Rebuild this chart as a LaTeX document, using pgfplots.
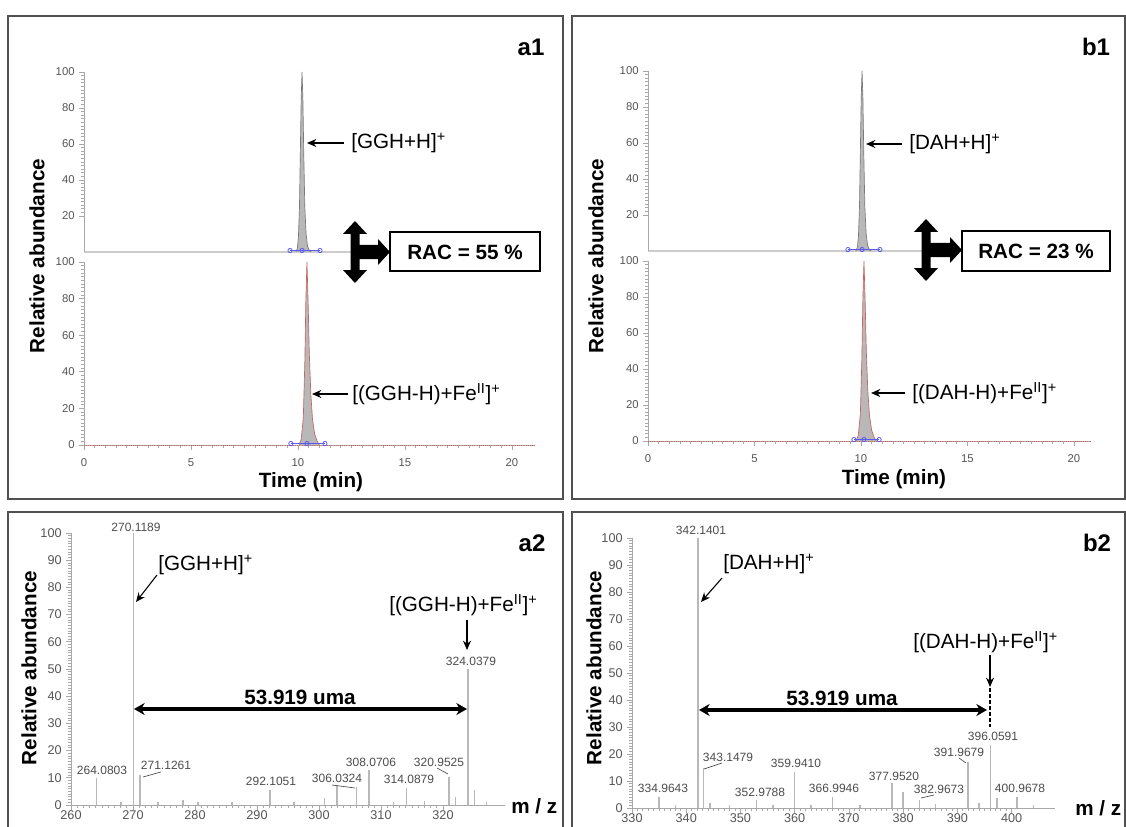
\documentclass[border=0pt]{standalone}
\usepackage{pgfplots}
\pgfplotsset{compat=1.18}
\usepackage{fontspec}
\setmainfont{Liberation Sans}
\usetikzlibrary{arrows.meta}
\definecolor{axgray}{HTML}{A8A8A8}
\definecolor{tickgray}{HTML}{555555}
\definecolor{peakfill}{HTML}{B8B8B8}
\definecolor{peakline}{HTML}{7A7A7A}
\definecolor{redtrace}{HTML}{C86464}
\definecolor{bluemark}{HTML}{5A5AF0}
\definecolor{stick}{HTML}{B8B8B8}
\definecolor{framec}{HTML}{505050}

\pgfplotsset{
  base/.style={scale only axis, anchor=south west, axis lines=left,
    axis line style={-,axgray,line width=0.75pt},
    tick style={axgray,line width=0.6pt}, tick align=outside,
    major tick length=3.5pt, minor tick length=2pt,
    enlargelimits=false, clip=false,
    /pgf/number format/assume math mode=true},
  chrom/.style={base, ymin=0, ymax=100, minor y tick num=9,
    ticklabel style={font=\fontsize{8.5}{10}\selectfont, text=tickgray},
    xticklabel style={yshift=-3pt}},
  spec/.style={base, ymin=0, ymax=100, ytick={0,10,...,100}, minor y tick num=9,
    minor x tick num=9,
    ticklabel style={font=\fontsize{9.5}{11}\selectfont, text=tickgray},
    xticklabel style={yshift=2.5pt}},
}
\tikzset{
  big/.style={font=\fontsize{15.5}{18}\selectfont\bfseries, inner sep=0pt},
  ion/.style={font=\fontsize{15.5}{18}\selectfont, inner sep=0pt, anchor=west},
  panel/.style={font=\fontsize{18}{20}\selectfont\bfseries, inner sep=0pt},
  pk/.style={font=\fontsize{9}{10}\selectfont, text=black!70, inner sep=0pt},
  thinarr/.style={line width=0.8pt, -{Stealth[length=7pt,width=6pt]}},
}
\newcommand{\racsym}[3]{%
 \fill (#1,#2-31) -- (#1+12,#2-18) -- (#1+4.5,#2-18) -- (#1+4.5,#2-7) -- (#3-12,#2-7) -- (#3-12,#2-13) -- (#3,#2) -- (#3-12,#2+13) -- (#3-12,#2+7) -- (#1+4.5,#2+7) -- (#1+4.5,#2+18) -- (#1+12,#2+18) -- (#1,#2+31) -- (#1-12,#2+18) -- (#1-4.5,#2+18) -- (#1-4.5,#2-18) -- (#1-12,#2-18) -- cycle;}

\begin{document}
\begin{tikzpicture}
\useasboundingbox (0,0) rectangle (844.5pt,619.5pt);

% ---------- a1 top ----------
\begin{axis}[chrom, at={(63pt,430.5pt)}, width=338.6pt, height=135pt,
  xmin=0, xmax=21.1, xtick=\empty, ytick={20,40,60,80,100},
  x axis line style={line width=1.4pt, draw=gray!40}]
\addplot[fill=peakfill, draw=peakline, line width=0.5pt] coordinates {
 (9.90,0) (9.97,2) (10.02,8) (10.07,25) (10.11,55) (10.15,85) (10.19,100)
 (10.23,85) (10.27,55) (10.32,25) (10.38,10) (10.45,3) (10.55,0.5) (10.62,0)};
\addplot[bluemark, line width=0.6pt, mark=o, mark size=1.6pt, mark options={solid}] coordinates {
 (9.63,0.8) (10.19,0.8) (11.03,0.8)};
\end{axis}

% ---------- a1 bottom ----------
\begin{axis}[chrom, at={(63pt,285.75pt)}, width=338.6pt, height=137.25pt,
  xmin=0, xmax=21.1, xtick={0,5,...,20}, minor x tick num=9, ytick={0,20,...,100}]
\addplot[redtrace, densely dotted, line width=0.6pt] coordinates {(0,0) (21.1,0)};
\addplot[fill=peakfill, draw=redtrace, line width=0.5pt] coordinates {
 (10.05,0) (10.15,3) (10.25,15) (10.32,45) (10.37,80) (10.42,100) (10.47,80)
 (10.53,50) (10.60,28) (10.68,14) (10.78,6) (10.90,2) (11.0,0)};
\addplot[bluemark, line width=0.6pt, mark=o, mark size=1.6pt] coordinates {
 (9.67,0.8) (10.42,0.8) (11.26,0.8)};
\end{axis}

% ---------- b1 top ----------
\begin{axis}[chrom, at={(486pt,431.25pt)}, width=332.25pt, height=135pt,
  xmin=0, xmax=20.8, xtick=\empty, ytick={20,40,60,80,100},
  x axis line style={line width=1.4pt, draw=gray!40}]
\addplot[fill=peakfill, draw=peakline, line width=0.5pt] coordinates {
 (9.76,0) (9.83,2) (9.88,8) (9.93,25) (9.97,55) (10.01,85) (10.05,100)
 (10.09,85) (10.13,55) (10.18,25) (10.24,10) (10.31,3) (10.41,0.5) (10.48,0)};
\addplot[bluemark, line width=0.6pt, mark=o, mark size=1.6pt] coordinates {
 (9.39,0.8) (10.05,0.8) (10.89,0.8)};
\end{axis}

% ---------- b1 bottom ----------
\begin{axis}[chrom, at={(486pt,288.75pt)}, width=332.25pt, height=135pt,
  xmin=0, xmax=20.8, xtick={0,5,...,20}, minor x tick num=9, ytick={0,20,...,100}]
\addplot[redtrace, densely dotted, line width=0.6pt] coordinates {(0,0) (20.8,0)};
\addplot[fill=peakfill, draw=redtrace, line width=0.5pt] coordinates {
 (9.77,0) (9.87,3) (9.97,15) (10.04,45) (10.09,80) (10.14,100) (10.19,80)
 (10.25,50) (10.32,28) (10.40,14) (10.50,6) (10.62,2) (10.72,0)};
\addplot[bluemark, line width=0.6pt, mark=o, mark size=1.6pt] coordinates {
 (9.67,0.8) (10.14,0.8) (10.85,0.8)};
\end{axis}

% ---------- a2 ----------
\begin{axis}[spec, at={(53.25pt,15.75pt)}, width=325.5pt, height=204pt,
  xmin=260, xmax=330, xtick={260,270,...,320}]
\addplot[ycomb, stick, line width=1.1pt] coordinates {
 (264.08,10) (268.1,1) (270.12,100) (271.13,11) (274.0,1) (278.1,2) (280.5,1)
 (286.0,1) (292.11,5.5) (296.0,1) (300.9,2.5) (302.9,7.5) (306.03,6.6)
 (308.07,12.8) (312.0,1) (314.09,6.2) (317.0,1.5) (320.95,10.3) (322.0,3)
 (324.04,50) (325.1,5.5) (327.0,1)};
\end{axis}

% ---------- b2 ----------
\begin{axis}[spec, at={(474pt,13.5pt)}, width=317.25pt, height=202.5pt,
  xmin=330, xmax=408, xtick={330,340,...,400}]
\addplot[ycomb, stick, line width=1.1pt] coordinates {
 (334.96,4) (338.0,1) (342.14,100) (343.15,15) (344.4,2) (348.0,1) (353.0,3)
 (356.0,1) (359.94,13.4) (363.0,1) (366.99,4) (372.0,1) (377.95,9.3) (380.0,6)
 (383.0,3) (386.0,1.5) (391.97,17) (394.0,2) (396.06,23.5) (397.3,3.7)
 (400.97,4) (404.0,1)};
\end{axis}

% ---------- annotations (pixel coordinates, origin top-left) ----------
\begin{scope}[x=0.75pt, y=-0.75pt, yshift=619.5pt]
 % frames
 \draw[framec, line width=0.9pt] (8,16) rectangle (563,499);
 \draw[framec, line width=0.9pt] (572,16) rectangle (1125,499);
 \draw[framec, line width=0.9pt] (8,512) rectangle (563,845);
 \draw[framec, line width=0.9pt] (572,512) rectangle (1125,845);

 % ----- a1 -----
 \node[panel] at (531,47) {a1};
 \node[big, rotate=90] at (37,256) {Relative abundance};
 \node[big] at (311,482) {Time (min)};
 \draw[thinarr] (344,143) -- (307,143);
 \node[ion] at (351,143) {[GGH+H]\textsuperscript{+}};
 \draw[thinarr] (348,394) -- (312,394);
 \node[ion] at (352,394) {[(GGH-H)+Fe\textsuperscript{II}]\textsuperscript{+}};
 \racsym{355}{252}{390}
 \draw[fill=white, line width=1.2pt] (390,232) rectangle (540,271);
 \node[big] at (465,252) {RAC = 55 \%};

 % ----- b1 -----
 \node[panel] at (1096,47) {b1};
 \node[big, rotate=90] at (596,256) {Relative abundance};
 \node[big] at (894,479) {Time (min)};
 \draw[thinarr] (902,144) -- (866,144);
 \node[ion] at (909,144) {[DAH+H]\textsuperscript{+}};
 \draw[thinarr] (905,393) -- (871,393);
 \node[ion] at (912,393) {[(DAH-H)+Fe\textsuperscript{II}]\textsuperscript{+}};
 \racsym{926}{250}{962}
 \draw[fill=white, line width=1.2pt] (962,231) rectangle (1110,271);
 \node[big] at (1036,251) {RAC = 23 \%};

 % ----- a2 -----
 \node[panel] at (532,543) {a2};
 \node[big, rotate=90] at (29,668) {Relative abundance};
 \node[big, anchor=west] at (511,806) {m / z};
 \node[ion] at (158,565) {[GGH+H]\textsuperscript{+}};
 \draw[thinarr] (157,575) -- (136,602);
 \node[ion] at (389,605) {[(GGH-H)+Fe\textsuperscript{II}]\textsuperscript{+}};
 \draw[thinarr] (467,620) -- (467,650);
 \node[big] at (300,697) {53.919 uma};
 \draw[line width=2.6pt, {Stealth[length=8pt,width=9pt]}-{Stealth[length=8pt,width=9pt]}] (134,709) -- (467,709);
 \node[pk] at (136,527) {270.1189};
 \node[pk] at (102,770) {264.0803};
 \node[pk] at (166,765) {271.1261};
 \node[pk] at (271,781) {292.1051};
 \node[pk] at (337,778) {306.0324};
 \node[pk] at (371,762) {308.0706};
 \node[pk] at (409,779) {314.0879};
 \node[pk] at (439,762) {320.9525};
 \node[pk] at (471,661) {324.0379};
 \draw[black!70, line width=0.5pt] (143,777) -- (161,772);
 \draw[black!70, line width=0.5pt] (332,785) -- (355,788);
 \draw[black!70, line width=0.5pt] (437,768) -- (448,774);

 % ----- b2 -----
 \node[panel] at (1097,543) {b2};
 \node[big, rotate=90] at (594,668) {Relative abundance};
 \node[big, anchor=west] at (1075,808) {m / z};
 \node[ion] at (723,564) {[DAH+H]\textsuperscript{+}};
 \draw[thinarr] (722,578) -- (701,602);
 \node[ion] at (913,642) {[(DAH-H)+Fe\textsuperscript{II}]\textsuperscript{+}};
 \draw[thinarr] (990,655) -- (990,687);
 \draw[line width=2.2pt, dash pattern=on 3pt off 1.5pt] (990,688) -- (990,727);
 \node[big] at (842,698) {53.919 uma};
 \draw[line width=2.6pt, {Stealth[length=8pt,width=9pt]}-{Stealth[length=8pt,width=9pt]}] (699,710) -- (987,710);
 \node[pk] at (701,530) {342.1401};
 \node[pk] at (663,788) {334.9643};
 \node[pk] at (728,757) {343.1479};
 \node[pk] at (760,792) {352.9788};
 \node[pk] at (796,763) {359.9410};
 \node[pk] at (834,788) {366.9946};
 \node[pk] at (894,776) {377.9520};
 \node[pk] at (939,789) {382.9673};
 \node[pk] at (959,752) {391.9679};
 \node[pk] at (993,736) {396.0591};
 \node[pk] at (1020,788) {400.9678};
 \draw[black!70, line width=0.5pt] (704,769) -- (722,763);
 \draw[black!70, line width=0.5pt] (921,798) -- (934,795);
 \draw[black!70, line width=0.5pt] (959,758) -- (966,763);
\end{scope}
\end{tikzpicture}
\end{document}
